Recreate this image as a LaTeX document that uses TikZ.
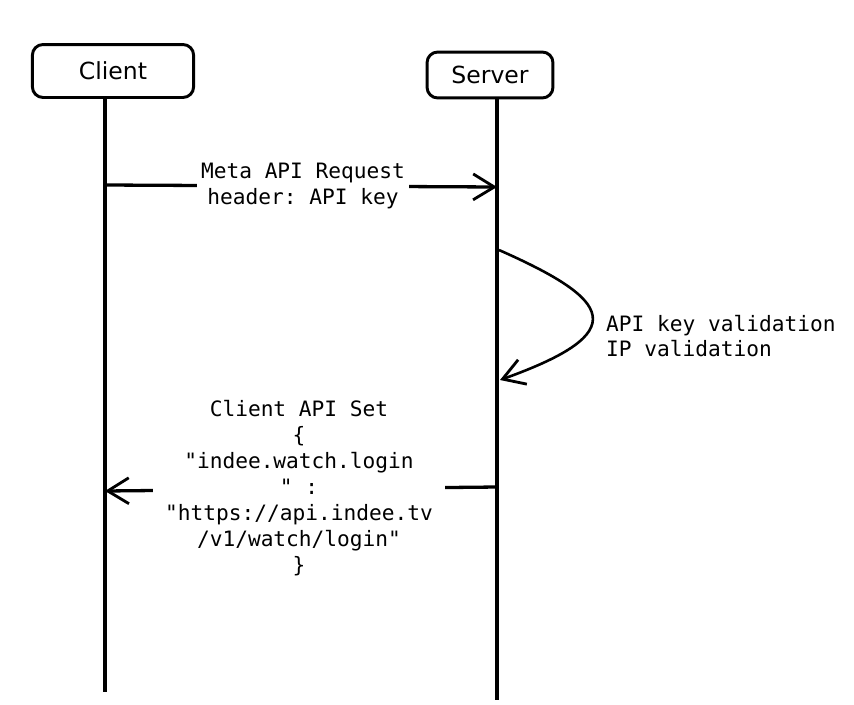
\documentclass[tikz,border=0pt]{standalone}
\usepackage{fontspec}
\setmainfont{DejaVu Sans}
\setmonofont{DejaVu Sans Mono}
\usetikzlibrary{arrows.meta}

\begin{document}
\begin{tikzpicture}[x=0.85pt, y=-0.85pt,
		actor/.style={draw, line width=2.5pt, rounded corners=9pt, minimum height=45pt, font=\fontsize{20}{24}\selectfont},
		lifeline/.style={line width=2.8pt},
		msg/.style={line width=2.8pt, -{Straight Barb[length=18pt, width=22pt, line width=2.4pt]}},
		msglabel/.style={fill=white, inner sep=3pt, align=center, font=\ttfamily\fontsize{18}{22}\selectfont}]
	\useasboundingbox (0,0) rectangle (854,704);
	% actors
	\node[actor, minimum width=137pt] (client) at (113,71) {Client};
	\node[actor, minimum width=107pt, minimum height=39pt] (server) at (490,75) {Server};
	\coordinate (client-end) at (105,692);
	\coordinate (server-end) at (497,700);
	\draw[lifeline] (client.south -| client-end) -- (client-end);
	\draw[lifeline] (server.south -| server-end) -- (server-end);
	% request
	\coordinate (req-c) at (105,185);
	\coordinate (req-s) at (497,187);
	\draw[msg] (req-c) -- (req-s);
	\node[msglabel] (req) at (303,186) {Meta API Request\\header: API key};
	% validation
	\coordinate (val-a) at (499,250);
	\coordinate (val-b) at (500,380);
	\draw[msg, line width=2.2pt] (val-a) .. controls (612,300) and (634,332) .. (val-b);
	\node[anchor=west, align=left, font=\ttfamily\fontsize{18}{22}\selectfont] (val) at (602,336) {API key validation\\IP validation};
	% response
	\coordinate (resp-s) at (497,487);
	\coordinate (resp-c) at (105,491);
	\draw[msg] (resp-s) -- (resp-c);
	\node[msglabel, inner xsep=10pt] (resp) at (299,488) {Client API Set\\\{\\"indee.watch.login\\" :\\"https://api.indee.tv\\/v1/watch/login"\\\}};
\end{tikzpicture}
\end{document}
